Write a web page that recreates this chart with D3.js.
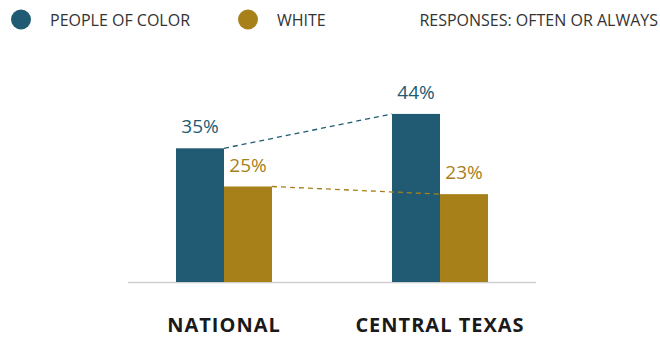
<!DOCTYPE html>
<html>
<head>
<meta charset="utf-8">
<script src="https://cdn.jsdelivr.net/npm/d3@7"></script>
<style>
  html, body { margin: 0; padding: 0; background: #fff; }
  svg { display: block; }
  text { font-family: "Open Sans", "Noto Sans", sans-serif; }
</style>
</head>
<body>
<svg id="chart" width="660" height="337"></svg>
<script>
// Share responding "often or always"
const categories = ["NATIONAL", "CENTRAL TEXAS"];
const seriesNames = ["PEOPLE OF COLOR", "WHITE"];
const peopleOfColor = [35, 44];
const white = [25, 23];
const seriesColors = ["#215b73", "#a88019"];
const legendNote = "RESPONSES: OFTEN OR ALWAYS";

const values = [peopleOfColor, white];

const svg = d3.select("#chart");

const x0 = d3.scaleBand()
  .domain(categories)
  .range([116, 548])
  .paddingInner(120 / 216)
  .paddingOuter(60 / 216);

const x1 = d3.scaleBand()
  .domain(seriesNames)
  .range([0, x0.bandwidth()]);

const y = d3.scaleLinear()
  .domain([0, 50])
  .range([282, 282 - 50 * 3.82]);

// Baseline
svg.append("line")
  .attr("x1", 128).attr("x2", 536)
  .attr("y1", 282.5).attr("y2", 282.5)
  .attr("stroke", "#cfcfcf")
  .attr("stroke-width", 1.5);

// Bars
seriesNames.forEach((s, si) => {
  svg.append("g").selectAll("rect")
    .data(categories.map((c, ci) => ({ c, v: values[si][ci] })))
    .join("rect")
    .attr("x", d => x0(d.c) + x1(s))
    .attr("y", d => y(d.v))
    .attr("width", x1.bandwidth())
    .attr("height", d => y(0) - y(d.v))
    .attr("fill", seriesColors[si]);
});

// Dashed connectors between the two groups
seriesNames.forEach((s, si) => {
  const v = values[si];
  svg.append("line")
    .attr("x1", x0(categories[0]) + x1(s) + x1.bandwidth())
    .attr("y1", y(v[0]))
    .attr("x2", x0(categories[1]) + x1(s))
    .attr("y2", y(v[1]))
    .attr("stroke", seriesColors[si])
    .attr("stroke-width", 1.3)
    .attr("stroke-dasharray", "5,4");
});

// Value labels
seriesNames.forEach((s, si) => {
  svg.append("g").selectAll("text")
    .data(categories.map((c, ci) => ({ c, v: values[si][ci] })))
    .join("text")
    .attr("x", d => x0(d.c) + x1(s) + x1.bandwidth() / 2)
    .attr("y", d => y(d.v) - 15)
    .attr("text-anchor", "middle")
    .attr("fill", seriesColors[si])
    .style("font-size", "19px")
    .text(d => d.v + "%");
});

// Category axis labels
svg.append("g").selectAll("text")
  .data(categories)
  .join("text")
  .attr("x", d => x0(d) + x0.bandwidth() / 2)
  .attr("y", 332)
  .attr("text-anchor", "middle")
  .attr("fill", "#1a1a1a")
  .style("font-size", "20px")
  .style("font-weight", "700")
  .style("letter-spacing", "1px")
  .text(d => d);

// Legend
const legendX = [21, 248];
seriesNames.forEach((s, si) => {
  const g = svg.append("g").attr("transform", `translate(${legendX[si]},19.5)`);
  g.append("circle").attr("r", 10).attr("fill", seriesColors[si]);
  g.append("text")
    .attr("x", 29).attr("y", 6)
    .attr("fill", "#333")
    .style("font-size", "16px")
    .text(s);
});
svg.append("text")
  .attr("x", 658).attr("y", 25.5)
  .attr("text-anchor", "end")
  .attr("fill", "#333")
  .style("font-size", "16px")
  .text(legendNote);
</script>
</body>
</html>
